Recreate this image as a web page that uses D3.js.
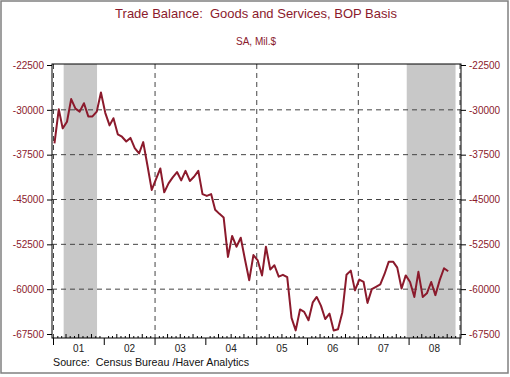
<!DOCTYPE html>
<html>
<head>
<meta charset="utf-8">
<script src="https://cdn.jsdelivr.net/npm/d3@7"></script>
<style>
  body { margin: 0; background: #fff; }
  svg { display: block; font-family: Arial, "Liberation Sans", sans-serif; }
  text { white-space: pre; }
</style>
</head>
<body>
<svg id="chart" width="510" height="377"></svg>
<script>
// monthly trade balance, Mil.$, starting Jan 2001
var startYear = 2001;
var balance = [
  -35600, -29900, -33100, -32000, -28200, -29800, -30300, -28900, -31100, -31100, -30300, -27100,
  -30500, -32600, -31400, -34100, -34500, -35300, -34700, -36400, -37300, -35400, -39400, -43400,
  -41600, -39800, -43800, -42300, -41300, -40400, -41800, -40200, -41900, -41200, -40200, -44100,
  -44400, -44100, -46700, -47400, -48000, -54600, -51100, -52900, -51400, -55000, -58500, -54300,
  -55200, -57700, -52900, -56700, -56000, -57900, -57600, -58000, -64800, -66900, -63400, -63800,
  -65200, -62200, -61300, -62800, -65000, -64100, -66900, -66700, -63900, -57600, -56900, -60200,
  -58400, -58800, -62300, -60000, -59600, -59200, -57500, -55400, -55400, -56400, -59900, -57700,
  -58800, -61300, -57100, -61300, -60700, -58800, -61000, -58500, -56500, -57000
];
var yTicks = [-67500, -60000, -52500, -45000, -37500, -30000, -22500];
var yGrid = [-60000, -52500, -45000, -37500, -30000];
var yearLabels = ["01", "02", "03", "04", "05", "06", "07", "08"];
var recessions = [["2001-03-15", "2001-11-10"], ["2007-12-15", "2008-11-30"]];

var red = "#8b1a2c";
var svg = d3.select("#chart");

var pLeft = 52, pRight = 461, pTop = 64, pBottom = 338;

var x = d3.scaleTime()
  .domain([new Date(2001, 0, 1), new Date(2009, 0, 1)])
  .range([53.5, 460]);
var y = d3.scaleLinear().domain([-67500, -22500]).range([334, 65]);

var data = balance.map(function(v, i) {
  return { date: new Date(startYear, i, 8), value: v };
});

// outer frame
svg.append("rect")
  .attr("x", 1).attr("y", 1).attr("width", 507).attr("height", 372)
  .attr("fill", "none").attr("stroke", "#808080").attr("stroke-width", 1.5);

// titles
svg.append("text").attr("x", 256).attr("y", 18)
  .attr("text-anchor", "middle").attr("font-size", 13).attr("fill", red)
  .text("Trade Balance:  Goods and Services, BOP Basis");
svg.append("text").attr("x", 256).attr("y", 45)
  .attr("text-anchor", "middle").attr("font-size", 10).attr("fill", red)
  .text("SA, Mil.$");

// recession shading
svg.selectAll("rect.rec").data(recessions).enter().append("rect")
  .attr("class", "rec")
  .attr("x", function(d) { return x(new Date(d[0])); })
  .attr("width", function(d) { return x(new Date(d[1])) - x(new Date(d[0])); })
  .attr("y", pTop).attr("height", pBottom - pTop)
  .attr("fill", "#c8c8c8");

// gridlines
svg.selectAll("line.hg").data(yGrid).enter().append("line")
  .attr("x1", pLeft).attr("x2", pRight)
  .attr("y1", function(d) { return y(d); }).attr("y2", function(d) { return y(d); })
  .attr("stroke", "#444").attr("stroke-dasharray", "5,4");

var vYears = [2001, 2003, 2005, 2007, 2009];
svg.selectAll("line.vg").data(vYears).enter().append("line")
  .attr("x1", function(d) { return x(new Date(d, 0, 1)); })
  .attr("x2", function(d) { return x(new Date(d, 0, 1)); })
  .attr("y1", pTop).attr("y2", pBottom)
  .attr("stroke", "#444").attr("stroke-dasharray", "5,4");

// plot frame
svg.append("rect")
  .attr("x", pLeft).attr("y", pTop).attr("width", pRight - pLeft).attr("height", pBottom - pTop)
  .attr("fill", "none").attr("stroke", "#000");

// y axes both sides
var yLeft = svg.append("g").attr("transform", "translate(" + pLeft + ",0)")
  .call(d3.axisLeft(y).tickValues(yTicks).tickSize(5).tickPadding(3)
    .tickFormat(function(d) { return String(d); }));
var yRight = svg.append("g").attr("transform", "translate(" + pRight + ",0)")
  .call(d3.axisRight(y).tickValues(yTicks).tickSize(5).tickPadding(3)
    .tickFormat(function(d) { return String(d); }));
[yLeft, yRight].forEach(function(g) {
  g.select(".domain").remove();
  g.selectAll("text").attr("fill", red).attr("font-size", 10)
    .attr("font-family", "Arial, 'Liberation Sans', sans-serif");
  g.selectAll("line").attr("stroke", "#000");
});

// x axis ticks: months small, quarters taller, years through the axis
var months = d3.timeMonth.range(new Date(2001, 0, 1), new Date(2009, 0, 2));
svg.selectAll("line.mt").data(months).enter().append("line")
  .attr("x1", function(d) { return x(d); }).attr("x2", function(d) { return x(d); })
  .attr("y1", pBottom)
  .attr("y2", function(d) {
    if (d.getMonth() == 0) return pBottom + 7;
    return d.getMonth() % 3 == 0 ? pBottom - 4 : pBottom - 2;
  })
  .attr("stroke", "#000");

svg.selectAll("text.yr").data(yearLabels).enter().append("text")
  .attr("x", function(d, i) { return x(new Date(2001 + i, 6, 1)); })
  .attr("y", 352)
  .attr("text-anchor", "middle").attr("font-size", 10).attr("fill", "#222")
  .text(function(d) { return d; });

// the series
var line = d3.line()
  .x(function(d) { return x(d.date); })
  .y(function(d) { return y(d.value); });
svg.append("path").datum(data)
  .attr("d", line)
  .attr("fill", "none").attr("stroke", red).attr("stroke-width", 2)
  .attr("stroke-linejoin", "round");

svg.append("text").attr("x", 53).attr("y", 366)
  .attr("font-size", 10.7).attr("fill", "#111")
  .text("Source:  Census Bureau /Haver Analytics");
</script>
</body>
</html>
